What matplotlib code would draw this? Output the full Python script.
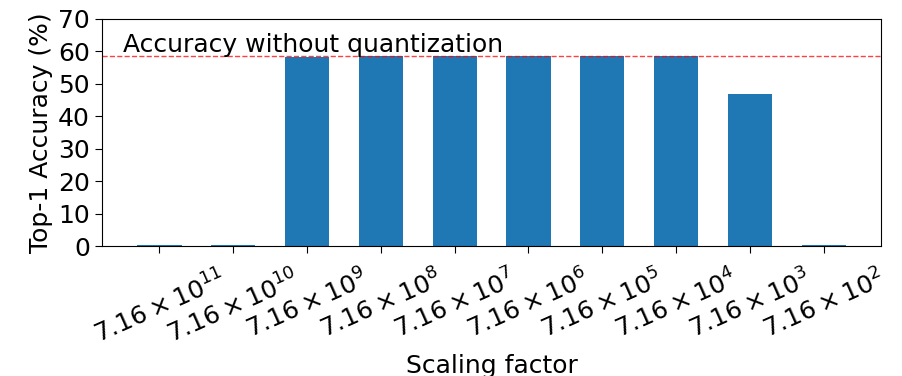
import numpy as np
import matplotlib.pyplot as plt

#data
exponents = [11, 10, 9, 8, 7, 6, 5, 4, 3, 2]
acc = [0.3, 0.3, 58.3, 58.5, 58.4, 58.5, 58.4, 58.4, 47.0, 0.3]
baseline = 58.4
labels = [r'$7.16\times10^{%d}$' % e for e in exponents]

plt.rcParams['font.size'] = 18
fig = plt.figure(figsize=(9.02, 3.76), dpi=100)
ax = fig.add_subplot(111)
x = np.arange(len(acc))
ax.bar(x, acc, width=0.6, color='#1f77b4')
ax.axhline(baseline, color='red', linestyle='--', linewidth=1, alpha=0.75)
ax.text(-0.5, baseline + 1.5, 'Accuracy without quantization')
ax.set_ylim(0, 70)
ax.set_yticks(np.arange(0, 71, 10))
ax.set_xticks(x)
ax.set_xticklabels(labels, rotation=24)
ax.tick_params(axis='x', length=5, pad=9)
ax.tick_params(axis='y', length=5)
ax.set_xlabel('Scaling factor')
ax.set_ylabel('Top-1 Accuracy (%)')
plt.subplots_adjust(left=0.113, right=0.977, top=0.95, bottom=0.345)
plt.savefig('out.png', dpi=100)
